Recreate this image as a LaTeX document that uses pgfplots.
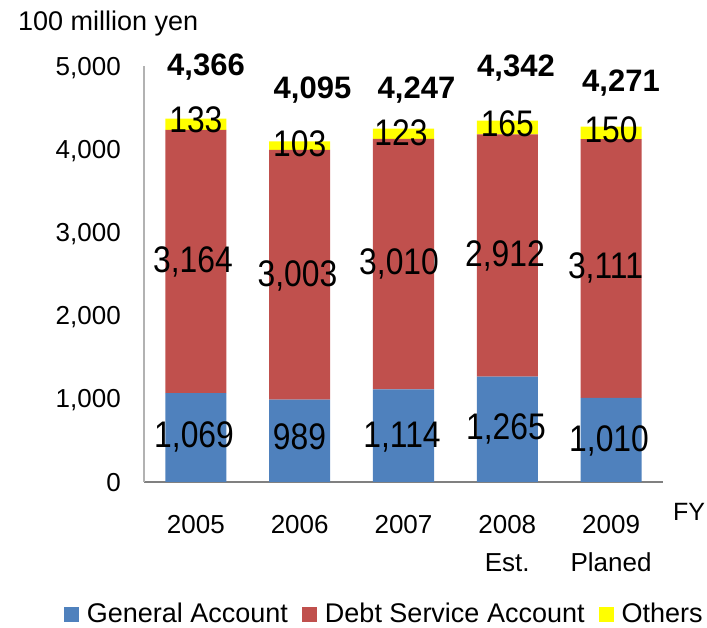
\documentclass[border=0pt]{standalone}
\usepackage{fontspec}
\setmainfont{Liberation Sans}
\usepackage{pgfplots}
\pgfplotsset{compat=1.18}
\definecolor{genblue}{HTML}{4F81BD}
\definecolor{debtred}{HTML}{C0504D}
\definecolor{othyel}{HTML}{FFFF00}
\newcommand{\fs}[1]{\fontsize{#1}{#1}\selectfont}
% bar value labels: tall, slightly condensed
\newcommand{\vl}[1]{\scalebox{0.86}[1]{\fs{37}#1}}
\newcommand{\tl}[1]{{\fs{31}\bfseries #1}}

\begin{document}
\begin{tikzpicture}
\begin{axis}[
  scale only axis, width=519pt, height=416pt,
  ybar stacked, bar width=61pt,
  xmin=-0.5, xmax=4.5, ymin=0, ymax=5000,
  clip=false,
  axis x line*=bottom, axis y line*=left,
  x axis line style={-, draw=gray, line width=1.2pt},
  y axis line style={-, draw=black!30, line width=1.2pt},
  major tick length=0pt,
  xtick={0,1,2,3,4},
  xticklabels={2005,2006,2007,{2008\\Est.},{2009\\Planed}},
  xticklabel style={font=\fontsize{26}{38}\selectfont, align=center, anchor=north, inner sep=0pt, yshift=-33pt},
  ytick={0,1000,2000,3000,4000,5000},
  scaled y ticks=false,
  /pgf/number format/1000 sep={,},
  /pgf/number format/assume math mode=true,
  yticklabel style={font=\fs{26}, anchor=east, inner sep=0pt, text depth=0pt, xshift=-23pt},
  legend columns=3,
  legend style={at={(0.461,-0.315)}, anchor=center, draw=none, font=\fs{27},
    nodes={inner sep=0pt},
    /tikz/every odd column/.style={column sep=8pt},
    /tikz/every even column/.style={column sep=14pt}},
  legend image code/.code={\fill[#1] (0pt,-9pt) rectangle (15pt,6pt);},
]
\addplot[fill=genblue, draw=none] coordinates {(0,1069) (1,989) (2,1114) (3,1265) (4,1010)};
\addplot[fill=debtred, draw=none] coordinates {(0,3164) (1,3003) (2,3010) (3,2912) (4,3111)};
\addplot[fill=othyel, draw=none] coordinates {(0,133) (1,103) (2,123) (3,165) (4,150)};
\legend{General Account, Debt Service Account, Others}

% label anchors (text is set after the axis so it lies above the bars)
\coordinate (T1) at (axis cs:0.097,4880);
\coordinate (T2) at (axis cs:1.123,4615);
\coordinate (T3) at (axis cs:2.125,4615);
\coordinate (T4) at (axis cs:3.084,4868);
\coordinate (T5) at (axis cs:4.095,4688);
\coordinate (O1) at (axis cs:0,4195);
\coordinate (O2) at (axis cs:1,3918);
\coordinate (O3) at (axis cs:1.976,4050);
\coordinate (O4) at (axis cs:3,4147);
\coordinate (O5) at (axis cs:4,4075);
\coordinate (D1) at (axis cs:-0.028,2512);
\coordinate (D2) at (axis cs:0.979,2344);
\coordinate (D3) at (axis cs:1.957,2488);
\coordinate (D4) at (axis cs:2.978,2596);
\coordinate (D5) at (axis cs:3.946,2440);
\coordinate (G1) at (axis cs:-0.018,409);
\coordinate (G2) at (axis cs:0.998,385);
\coordinate (G3) at (axis cs:1.986,409);
\coordinate (G4) at (axis cs:2.987,505);
\coordinate (G5) at (axis cs:3.98,361);
\end{axis}

\node[anchor=base] at (T1) {\tl{4,366}};
\node[anchor=base] at (T2) {\tl{4,095}};
\node[anchor=base] at (T3) {\tl{4,247}};
\node[anchor=base] at (T4) {\tl{4,342}};
\node[anchor=base] at (T5) {\tl{4,271}};
\node[anchor=base] at (O1) {\vl{133}};
\node[anchor=base] at (O2) {\vl{103}};
\node[anchor=base] at (O3) {\vl{123}};
\node[anchor=base] at (O4) {\vl{165}};
\node[anchor=base] at (O5) {\vl{150}};
\node[anchor=base] at (D1) {\vl{3,164}};
\node[anchor=base] at (D2) {\vl{3,003}};
\node[anchor=base] at (D3) {\vl{3,010}};
\node[anchor=base] at (D4) {\vl{2,912}};
\node[anchor=base] at (D5) {\vl{3,111}};
\node[anchor=base] at (G1) {\vl{1,069}};
\node[anchor=base] at (G2) {\vl{989}};
\node[anchor=base] at (G3) {\vl{1,114}};
\node[anchor=base] at (G4) {\vl{1,265}};
\node[anchor=base] at (G5) {\vl{1,010}};

\node[anchor=base west, font=\fs{27}, inner sep=0pt] at ([xshift=-126pt,yshift=35pt]current axis.north west) {100 million yen};
\node[anchor=base west, font=\fs{25}, inner sep=0pt] at ([xshift=10pt,yshift=-39pt]current axis.south east) {FY};
\path (current axis.south west) ++(-144pt,-146pt) rectangle ++(707pt,628pt);
\end{tikzpicture}
\end{document}
